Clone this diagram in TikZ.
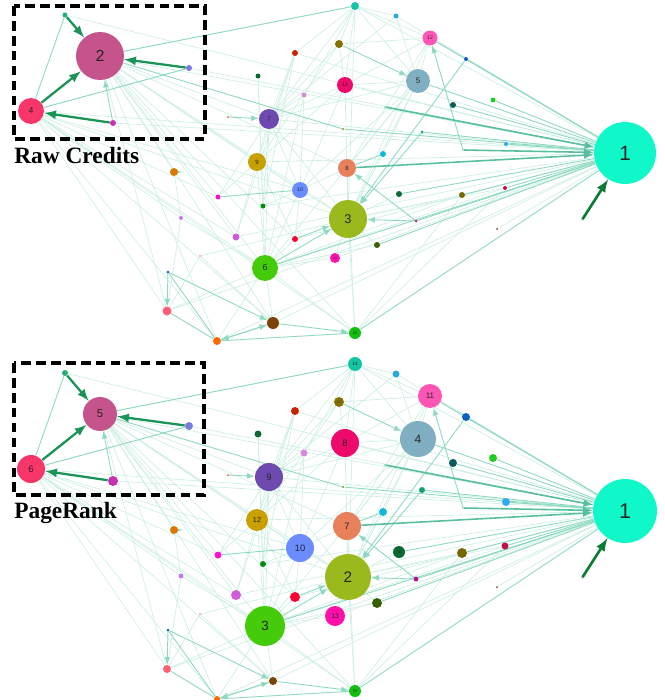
\documentclass[tikz,border=0pt]{standalone}
\usepackage{fontspec}
\setmainfont{Liberation Serif}
\setsansfont{Liberation Sans}
\usepackage{tikz}
\usetikzlibrary{arrows}
\pgfdeclarelayer{bg}
\pgfsetlayers{bg,main}
\definecolor{edgec}{HTML}{5CC9A7}
\definecolor{boldc}{HTML}{1B9557}
\definecolor{darkc}{HTML}{0D7A35}
\tikzset{my_graph/.style={x=0.02cm,y=-0.02cm,>=latex}}
\tikzset{my_vertex/.style={circle, inner sep=0pt, fill=#1, text=black!85}}
\tikzset{my_faint/.style={draw=edgec!32, line width=0.35pt}}
\tikzset{my_edge/.style={draw=edgec!70, line width=0.5pt}}
\tikzset{my_hub_edge/.style={->, draw=edgec!95!black, line width=0.9pt}}
\tikzset{my_bold/.style={->, draw=boldc, line width=1.3pt}}
\tikzset{my_box/.style={dash pattern=on 5.5pt off 3pt, line width=1.9pt}}
\tikzset{my_title/.style={anchor=base west, inner sep=0pt, font=\bfseries\fontsize{13.3}{15}\selectfont}}

\begin{document}
\begin{tikzpicture}[my_graph]
    %\draw[help lines] (0,0) grid[step=50] (665,700);
    \useasboundingbox (0,0) rectangle (665,700);

    % same layout twice: t = raw credits, b = pagerank (shifted by 358)
    \foreach \id/\x/\y/\c/\ra/\la/\rb/\lb in {
        hub/625/153/10F8CA/31/1/32/1,
        box/100/56/C4548B/24/2/17/5,
        boxl/31/111/F8366A/13/4/14/6,
        a/65/15/22B374/2.5/{}/3/{},
        b/189/68/7B7BDD/3/{}/4/{},
        c/113/123/C531B0/3/{}/5/{},
        d/295/53/CC2200/3/{}/4/{},
        e/258/76/0B6B33/2.5/{}/3.5/{},
        f/304/95/D48BDA/2.5/{}/3.5/{},
        g/228/117/FF4422/1/{}/1/{},
        pur/269/119/6E4AB0/10/7/14/9,
        gold/257/162/C8A000/9/9/11/12,
        h/174/172/DD7700/4/{}/4/{},
        hs/183/172/5CC9A7/0.5/{}/0.5/{},
        teal/355/6/14C4A4/4/{}/7/14,
        i/396/16/2AA8E4/2.5/{}/3.5/{},
        pink/430/38/FF55B4/7.5/12/12/11,
        j/339/44/857000/4/{}/5/17,
        crim/345/85/EE0A6A/8/11/14/8,
        steel/418/81/7FAFC0/12/5/18/4,
        k/466/59/1060C0/2/{}/4/{},
        l/453/105/0B5B5E/3/{}/4/{},
        m/493/100/22CC22/2.5/{}/4/{},
        n/506/144/33A8EE/2/{}/4/{},
        o/383/154/11B8D8/3/{}/4/{},
        pp/422/132/12A070/1.5/{}/3/{},
        qq/343/129/8A8A20/1.2/{}/1.2/{},
        rr/385/107/5CC9A7/0.8/{}/0.8/{},
        ss/463/150/5CC9A7/0.8/{}/0.8/{},
        sal/347/168/E8805C/9/8/14/7,
        blu/300/190/6A8CFF/8/10/14/10,
        t/218/197/FF11CC/2.5/{}/3.5/{},
        u/263/206/088A10/2.5/{}/3/{},
        v/181/218/C57AF0/2/{}/2.5/{},
        w/236/237/D25BD9/3.5/{}/5/{},
        x/295/239/FF0033/3/{}/5/{},
        grn/265/268/44CC0A/13/6/20/3,
        y/168/272/1566A8/1.5/{}/1.5/{},
        z/167/311/FF5F72/4.5/{}/4/{},
        brn/273/323/7A4205/6/{}/4/{},
        org/217/341/FF6A00/4/{}/3/{},
        yg/348/219/9AB91C/19/3/23/2,
        C/399/194/0A6A33/3/{}/6/16,
        D/462/195/786700/3/{}/5/{},
        E/505/188/C4104C/2/{}/3.5/{},
        F/416/221/B0188A/1.5/{}/2.5/{},
        G/377/245/3A5F05/3/{}/5/{},
        mag/335/258/FF10AA/5/13/10/13,
        g15/355/333/11C011/6/15/6/15,
        H/582/220/0D7A35/0.6/{}/0.6/{},
        I/200/256/FF6688/0.8/{}/0.8/{},
        J/497/229/8A3A20/1/{}/1/{}
    }{
        \definecolor{vc}{HTML}{\c}
        \pgfmathsetmacro\fa{0.38*\ra}
        \pgfmathsetmacro\fb{0.38*\rb}
        \node[my_vertex=vc, minimum size=\ra*0.04cm, font=\sffamily\fontsize{\fa}{\fa}\selectfont] (t\id) at (\x,\y) {\la};
        \node[my_vertex=vc, minimum size=\rb*0.04cm, font=\sffamily\fontsize{\fb}{\fb}\selectfont] (b\id) at (\x,\y+358) {\lb};
    }

    \begin{pgfonlayer}{bg}
    \foreach \p in {t,b}{
        \foreach \u/\v in {teal/box, teal/pur, teal/steel, teal/yg, teal/crim, teal/j, teal/d, teal/f, teal/i, teal/pink, teal/hub,
            pink/steel, pink/j, pink/k, pink/crim, pink/yg, pink/sal, pink/hub, i/steel, i/hub, i/pur,
            j/crim, j/gold, j/pur, crim/gold, crim/pur, crim/blu, crim/yg, crim/hub,
            steel/blu, steel/yg, steel/sal, steel/grn, steel/pur, steel/crim, steel/o,
            box/yg, box/grn, box/brn, box/g15, box/w, box/t, box/pur, box/gold, box/h, box/blu, box/sal, box/z, box/org, box/x, box/hub,
            boxl/grn, boxl/brn, boxl/blu, boxl/w, boxl/v, boxl/t, boxl/z, boxl/org, boxl/g15, boxl/yg, boxl/b, boxl/hub,
            pur/grn, pur/gold, pur/blu, pur/t, pur/u, pur/yg, pur/hub, gold/grn, gold/blu, gold/x, gold/w, gold/t, gold/hub,
            blu/yg, blu/grn, blu/u, blu/x, blu/sal, yg/D, yg/E, yg/G, yg/C, yg/mag, yg/g15, yg/sal, yg/o,
            grn/mag, grn/G, grn/x, grn/z, grn/org, grn/brn, grn/g15, grn/D, grn/E, g15/D, g15/E, g15/sal,
            d/gold, d/pur, d/w, d/u, d/hub, e/u, e/grn, f/pur, f/blu, f/grn, v/grn, v/h, v/z, I/yg, I/brn, I/z,
            w/hub, u/hub, x/hub, mag/hub, J/hub, z/hub, brn/hub, org/hub, a/hub, b/hub, c/hub}
            \draw[my_faint] (\p\u) -- (\p\v);
        \foreach \u/\v in {box/qq, qq/hub, box/teal, t/blu, y/org, org/g15, z/org, g15/hub, grn/hub, boxl/a,
            o/sal, G/hub, D/hub, E/hub, C/hub, k/hub, steel/hub, pink/hub, l/hub, m/hub, n/hub, pp/hub, F/hub, b/boxl}
            \draw[my_edge] (\p\u) -- (\p\v);
        \foreach \u/\v in {g/pur, j/steel, ss/pink, k/yg, pp/yg, F/yg, F/sal, grn/yg, x/yg,
            y/z, y/brn, org/brn, brn/org, brn/g15, c/box, h/hs}
            \draw[my_edge, ->] (\p\u) -- (\p\v);
        \foreach \u/\v in {rr/hub, ss/hub, sal/hub}
            \draw[my_hub_edge] (\p\u) -- (\p\v);
        \foreach \u/\v in {a/box, b/box, boxl/box, c/boxl}
            \draw[my_bold] (\p\u) -- (\p\v);
        \draw[my_bold, draw=darkc, line width=1.5pt] (\p H) -- (\p hub);
    }
    \end{pgfonlayer}

    \draw[my_box] (14,6) rectangle (205,139);
    \draw[my_box] (14,363) rectangle (204,495);
    \node[my_title] (raw) at (14,163) {Raw Credits};
    \node[my_title] (pr) at (14,518) {PageRank};
\end{tikzpicture}
\end{document}
